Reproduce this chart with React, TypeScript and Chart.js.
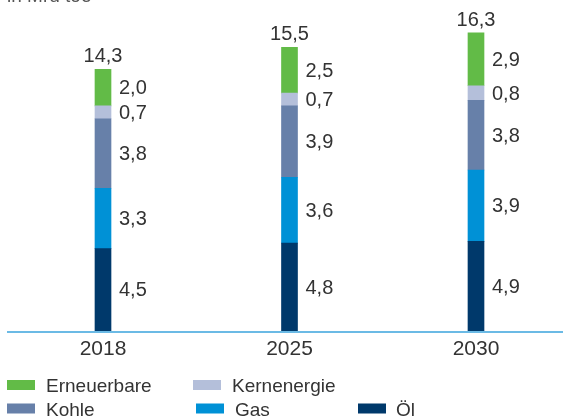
import React, { useEffect, useRef } from 'react';
import { Chart, registerables } from 'chart.js';

Chart.register(...registerables);

const categories = ['2018', '2025', '2030'];
const oel = [4.5, 4.8, 4.9];
const gas = [3.3, 3.6, 3.9];
const kohle = [3.8, 3.9, 3.8];
const kernenergie = [0.7, 0.7, 0.8];
const erneuerbare = [2.0, 2.5, 2.9];
const totals = [14.3, 15.5, 16.3];
const unitLabel = 'in Mrd toe';

const FONT = '"Liberation Sans", Arial, sans-serif';
const TEXT = '#333333';

const COLORS = {
  oel: '#00396b',
  gas: '#0091d6',
  kohle: '#6780a9',
  kern: '#b4bfda',
  ern: '#62bb47',
};

const fmt = (v: number) => v.toFixed(1).replace('.', ',');

const W = 575;
const H = 419;
const BASE_Y = 331;

const labelPlugin = {
  id: 'customLabels',
  afterDatasetsDraw(chart: any) {
    const ctx = chart.ctx;
    ctx.save();
    ctx.fillStyle = TEXT;
    ctx.font = `20px ${FONT}`;
    ctx.textAlign = 'left';
    ctx.textBaseline = 'middle';
    chart.data.datasets.forEach((ds: any, di: number) => {
      const meta = chart.getDatasetMeta(di);
      meta.data.forEach((el: any, i: number) => {
        const v = ds.data[i];
        const x = el.x + el.width / 2 + 8;
        const y = (el.y + el.base) / 2 + 1;
        ctx.fillText(fmt(v), x, y);
      });
    });
    // totals
    const lastMeta = chart.getDatasetMeta(chart.data.datasets.length - 1);
    ctx.textAlign = 'center';
    ctx.textBaseline = 'alphabetic';
    ctx.font = `20px ${FONT}`;
    lastMeta.data.forEach((el: any, i: number) => {
      ctx.fillText(fmt(totals[i]), el.x, el.y - 7);
    });
    // baseline
    const yPix = chart.scales.y.getPixelForValue(0);
    ctx.strokeStyle = '#3aa3dc';
    ctx.lineWidth = 1.5;
    ctx.beginPath();
    ctx.moveTo(7, yPix + 1);
    ctx.lineTo(chart.width, yPix + 1);
    ctx.stroke();
    // unit label (cropped at top)
    ctx.font = `19px ${FONT}`;
    ctx.textAlign = 'left';
    ctx.fillStyle = '#555555';
    ctx.fillText(unitLabel, 7, 2);
    ctx.restore();
  },
};

const legendPos: Record<string, { bx: number; tx: number; row: number }> = {
  'Erneuerbare': { bx: 7, tx: 46, row: 0 },
  'Kernenergie': { bx: 193, tx: 232, row: 0 },
  'Kohle': { bx: 7, tx: 46, row: 1 },
  'Gas': { bx: 196, tx: 235, row: 1 },
  'Öl': { bx: 358, tx: 396, row: 1 },
};

const legendPlugin = {
  id: 'customLegend',
  afterDraw(chart: any) {
    const ctx = chart.ctx;
    ctx.save();
    ctx.font = `19px ${FONT}`;
    ctx.textBaseline = 'alphabetic';
    ctx.textAlign = 'left';
    chart.data.datasets.forEach((ds: any) => {
      const p = legendPos[ds.label];
      if (!p) return;
      const baseline = p.row === 0 ? 392 : 415.5;
      ctx.fillStyle = ds.backgroundColor;
      ctx.fillRect(p.bx, baseline - 12, 28, 10);
      ctx.fillStyle = TEXT;
      ctx.fillText(ds.label, p.tx, baseline);
    });
    ctx.restore();
  },
};

export default function App() {
  const ref = useRef<HTMLCanvasElement | null>(null);

  useEffect(() => {
    document.body.style.margin = '0';
    document.body.style.overflow = 'hidden';
    const canvas = ref.current;
    if (!canvas) return;
    const chart = new Chart(canvas, {
      type: 'bar',
      data: {
        labels: categories,
        datasets: [
          { label: 'Öl', data: oel, backgroundColor: COLORS.oel },
          { label: 'Gas', data: gas, backgroundColor: COLORS.gas },
          { label: 'Kohle', data: kohle, backgroundColor: COLORS.kohle },
          { label: 'Kernenergie', data: kernenergie, backgroundColor: COLORS.kern },
          { label: 'Erneuerbare', data: erneuerbare, backgroundColor: COLORS.ern },
        ],
      },
      options: {
        responsive: false,
        animation: false,
        layout: { padding: { left: 9.75, right: 5.75, top: 0, bottom: 0 } },
        datasets: { bar: { barThickness: 16, borderWidth: 0 } },
        plugins: {
          legend: { display: false },
          tooltip: { enabled: false },
        },
        scales: {
          x: {
            stacked: true,
            grid: { display: false, drawTicks: false },
            border: { display: false },
            ticks: {
              color: TEXT,
              font: { family: FONT, size: 21 },
              padding: 6,
            },
            afterFit: (scale: any) => {
              scale.height = H - BASE_Y;
            },
          },
          y: {
            stacked: true,
            display: false,
            min: 0,
            max: BASE_Y / 18.3,
          },
        },
      },
      plugins: [labelPlugin, legendPlugin],
    });
    return () => chart.destroy();
  }, []);

  return (
    <div style={{ width: 563, height: 419, overflow: 'hidden', position: 'relative' }}>
      <canvas ref={ref} width={W} height={H} style={{ display: 'block' }} />
    </div>
  );
}
